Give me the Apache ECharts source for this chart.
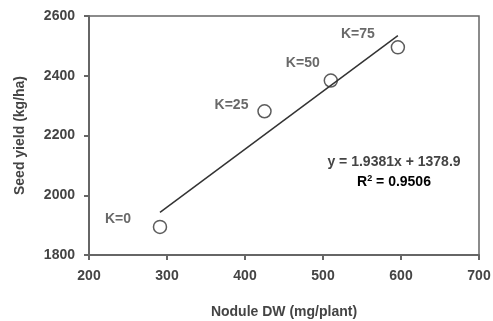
<!DOCTYPE html>
<html><head><meta charset="utf-8">
<script src="https://cdn.jsdelivr.net/npm/echarts@6/dist/echarts.min.js"></script>
<style>html,body{margin:0;padding:0;background:#fff}#c{width:493px;height:321px}</style>
</head><body><div id="c"></div>
<script>
var nodule = [291, 425, 510, 596];
var yieldVals = [1894, 2281, 2384, 2495];
var pointLabels = ['K=0', 'K=25', 'K=50', 'K=75'];
var trendX = [291, 596];
var trendY = [1943, 2534];
var equationText = 'y = 1.9381x + 1378.9';
var r2Text = '0.9506';
var xTitle = 'Nodule DW (mg/plant)';
var yTitle = 'Seed yield (kg/ha)';
var xMin = 200, xMax = 700, yMin = 1800, yMax = 2600;

var labelOffsets = [[-42, -8], [-33, -6], [-28, -17], [-40, -13]];
var txt = '#444';
var font = 'Liberation Sans';
var axisCol = '#666';
var G = {left: 89, right: 14, top: 16, bottom: 66};

var chart = echarts.init(document.getElementById('c'));
chart.setOption({
  animation: false,
  grid: {left: G.left, right: G.right, top: G.top, bottom: G.bottom, outerBoundsMode: 'none', containLabel: false},
  xAxis: {
    type: 'value', min: xMin, max: xMax, interval: 100,
    name: xTitle, nameLocation: 'middle', nameGap: 50,
    nameTextStyle: {fontFamily: font, fontSize: 14, color: txt, fontWeight: 'bold'},
    axisLine: {lineStyle: {color: axisCol, width: 2}},
    axisTick: {show: true, length: 5, lineStyle: {color: axisCol, width: 2}},
    axisLabel: {fontFamily: font, fontSize: 14, color: txt, margin: 14, fontWeight: 'bold', formatter: function (v) { return String(v); }},
    splitLine: {show: false}
  },
  yAxis: {
    type: 'value', min: yMin, max: yMax, interval: 200,
    name: yTitle, nameLocation: 'middle', nameGap: 62,
    nameTextStyle: {fontFamily: font, fontSize: 14, color: txt, fontWeight: 'bold'},
    axisLine: {show: true, lineStyle: {color: axisCol, width: 2}},
    axisTick: {show: true, length: 5, lineStyle: {color: axisCol, width: 2}},
    axisLabel: {fontFamily: font, fontSize: 14, color: txt, margin: 14, fontWeight: 'bold', formatter: function (v) { return String(v); }},
    splitLine: {show: false}
  },
  series: [
    {
      type: 'line',
      data: trendX.map(function (x, i) { return [x, trendY[i]]; }),
      symbol: 'none', lineStyle: {color: '#333', width: 1.5}, silent: true
    },
    {
      type: 'scatter', symbol: 'circle', symbolSize: 13,
      itemStyle: {color: '#fff', borderColor: '#333', borderWidth: 1.5},
      data: nodule.map(function (x, i) {
        return {value: [x, yieldVals[i]], label: {show: true, formatter: pointLabels[i], position: 'inside', offset: labelOffsets[i]}};
      }),
      label: {fontFamily: font, fontSize: 14, color: txt, fontWeight: 'bold'}
    }
  ],
  graphic: [
    {id: 'frame', type: 'rect', silent: true, z: -1,
     shape: {x: G.left, y: G.top, width: 493 - G.left - G.right, height: 321 - G.top - G.bottom},
     style: {fill: 'none', stroke: axisCol, lineWidth: 1.5}},
    {id: 'eq', type: 'text', x: 394, y: 162, style: {text: equationText, font: 'bold 14px "Liberation Sans"', fill: txt, align: 'center', verticalAlign: 'middle'}},
    {id: 'r2', type: 'text', x: 394, y: 182, style: {text: '{a|R}{s|2}{a| = ' + r2Text + '}', align: 'center', verticalAlign: 'middle', rich: {a: {fontFamily: font, fontSize: 14, color: txt, fontWeight: 'bold'}, s: {fontFamily: font, fontSize: 9, color: txt, fontWeight: 'bold', verticalAlign: 'top', padding: [0, 0, 6, 0]}}}}
  ]
});
</script></body></html>
